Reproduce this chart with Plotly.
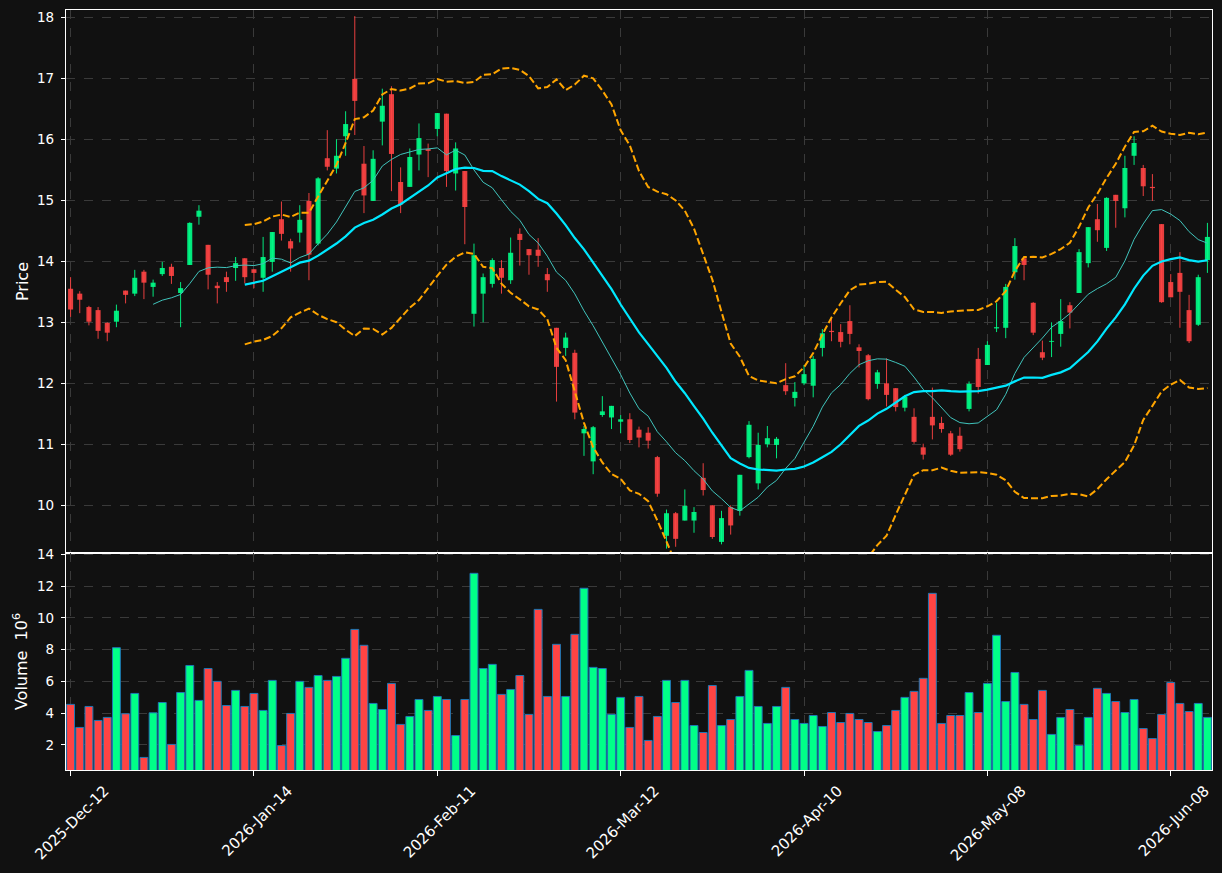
import pandas as pd
import plotly.graph_objects as go

# ---------------- data ----------------
tick_index = [0, 20, 40, 60, 80, 100, 120]
tick_labels = ["2025-Dec-12", "2026-Jan-14", "2026-Feb-11", "2026-Mar-12",
               "2026-Apr-10", "2026-May-08", "2026-Jun-08"]

opens = [13.55, 13.47, 13.25, 13.20, 12.99, 13.01, 13.52, 13.47, 13.83, 13.58,
         13.79, 13.91, 13.48, 13.94, 14.73, 14.27, 13.60, 13.74, 13.89, 14.05,
         13.87, 13.73, 13.99, 14.69, 14.33, 14.47, 14.99, 14.29, 15.69, 15.52,
         16.05, 16.99, 15.60, 14.99, 16.29, 16.74, 15.30, 15.22, 15.75, 15.84,
         16.17, 16.42, 15.44, 15.48, 13.14, 13.47, 13.63, 13.89, 13.69, 14.45,
         14.20, 14.19, 13.79, 12.91, 12.58, 12.50, 11.18, 10.72, 11.48, 11.44,
         11.37, 11.41, 11.24, 11.19, 10.79, 9.50, 9.87, 9.75, 9.75, 10.45,
         10.00, 9.40, 9.97, 9.91, 10.79, 10.36, 11.00, 10.99, 11.97, 11.76,
         12.00, 11.96, 12.58, 12.86, 12.84, 13.02, 12.59, 12.46, 11.99, 12.00,
         11.92, 11.60, 11.45, 10.95, 11.45, 11.35, 11.18, 11.14, 11.58, 12.40,
         12.30, 12.90, 12.91, 13.82, 14.05, 13.32, 12.51, 12.68, 12.81, 13.28,
         13.48, 13.97, 14.69, 14.22, 15.09, 14.87, 15.73, 15.53, 15.22, 14.61,
         13.66, 13.81, 13.20, 12.96, 14.02]
highs = [13.74, 13.51, 13.27, 13.25, 13.00, 13.29, 13.52, 13.86, 13.86, 13.70,
         13.99, 13.96, 13.66, 14.64, 14.92, 14.27, 13.66, 13.83, 14.07, 14.05,
         13.87, 14.40, 14.48, 14.98, 14.37, 14.92, 15.12, 15.38, 16.15, 16.00,
         16.46, 18.02, 15.89, 15.82, 16.83, 16.87, 15.54, 15.85, 16.26, 15.93,
         16.43, 16.42, 15.95, 15.48, 14.29, 13.80, 14.05, 14.02, 14.39, 14.54,
         14.20, 14.38, 13.89, 12.91, 12.83, 12.55, 11.30, 11.30, 11.79, 11.63,
         11.48, 11.51, 11.29, 11.28, 10.81, 9.93, 9.89, 10.26, 9.97, 10.69,
         10.00, 9.91, 10.00, 10.50, 11.38, 11.19, 11.30, 11.12, 12.33, 12.02,
         12.30, 12.45, 12.89, 13.07, 12.97, 13.28, 12.64, 12.48, 12.22, 12.41,
         11.92, 11.81, 11.59, 11.01, 11.93, 11.45, 11.22, 11.28, 12.03, 12.58,
         12.69, 13.32, 13.63, 14.38, 14.05, 13.33, 12.70, 13.00, 13.38, 13.33,
         14.20, 14.56, 14.94, 15.05, 15.09, 15.73, 16.05, 15.58, 15.43, 14.61,
         13.79, 14.15, 13.45, 13.78, 14.63]
lows = [13.09, 13.15, 12.95, 12.73, 12.69, 12.92, 13.31, 13.43, 13.38, 13.42,
        13.76, 13.63, 12.92, 13.94, 14.60, 13.54, 13.31, 13.50, 13.68, 13.64,
        13.56, 13.50, 13.83, 14.34, 13.83, 14.31, 13.69, 14.26, 15.49, 15.44,
        15.73, 16.07, 14.79, 14.99, 15.90, 15.15, 14.79, 15.22, 15.49, 15.38,
        16.05, 15.22, 15.16, 14.28, 12.93, 13.00, 13.57, 13.47, 13.63, 13.93,
        13.78, 13.91, 13.50, 11.70, 12.45, 11.41, 10.81, 10.51, 11.45, 11.25,
        11.18, 11.02, 10.95, 10.93, 10.14, 9.29, 9.32, 9.75, 9.55, 10.16,
        9.45, 9.36, 9.52, 9.83, 10.77, 10.26, 10.95, 10.77, 11.81, 11.62,
        11.97, 11.77, 12.44, 12.69, 12.59, 12.64, 12.26, 11.72, 11.91, 11.62,
        11.54, 11.54, 11.01, 10.75, 11.08, 11.19, 10.81, 10.88, 11.54, 11.83,
        12.30, 12.84, 12.74, 13.70, 13.69, 12.79, 12.38, 12.43, 12.60, 12.90,
        13.48, 13.90, 14.32, 14.17, 14.55, 14.72, 15.58, 15.07, 14.99, 13.32,
        13.41, 12.91, 12.66, 12.94, 13.81]
closes = [13.21, 13.37, 13.01, 12.86, 12.83, 13.19, 13.45, 13.73, 13.65, 13.65,
          13.89, 13.76, 13.56, 14.63, 14.83, 13.78, 13.56, 13.66, 13.97, 13.74,
          13.81, 14.07, 14.48, 14.45, 14.21, 14.68, 14.11, 15.36, 15.55, 15.73,
          16.25, 16.63, 15.08, 15.68, 16.55, 15.76, 14.93, 15.71, 16.02, 15.81,
          16.43, 15.48, 15.85, 14.89, 14.10, 13.74, 14.02, 13.73, 14.14, 14.35,
          14.10, 14.09, 13.69, 12.27, 12.75, 11.52, 11.25, 11.28, 11.54, 11.63,
          11.41, 11.07, 11.11, 11.06, 10.19, 9.87, 9.45, 9.99, 9.89, 10.25,
          9.48, 9.79, 9.67, 10.50, 11.32, 10.99, 11.10, 11.09, 11.87, 11.86,
          12.15, 12.40, 12.82, 12.84, 12.68, 12.81, 12.53, 11.74, 12.18, 11.81,
          11.61, 11.78, 11.04, 10.83, 11.31, 11.25, 10.83, 10.92, 11.99, 11.94,
          12.63, 12.92, 13.58, 14.25, 13.94, 12.83, 12.42, 12.69, 13.02, 13.16,
          14.15, 14.56, 14.51, 15.04, 14.99, 15.53, 15.94, 15.23, 15.20, 13.33,
          13.41, 13.50, 12.69, 13.74, 14.40]
volumes = [4.55, 3.10, 4.42, 3.54, 3.73, 8.12, 3.96, 5.24, 1.21, 4.02,
           4.67, 2.03, 5.30, 7.00, 4.80, 6.81, 6.00, 4.48, 5.43, 4.42,
           5.24, 4.17, 6.06, 1.96, 3.98, 6.00, 5.62, 6.37, 6.06, 6.31,
           7.45, 9.27, 8.27, 4.61, 4.23, 5.87, 3.29, 3.79, 4.86, 4.17,
           5.05, 4.86, 2.59, 4.86, 12.80, 6.81, 7.07, 5.18, 5.49, 6.37,
           3.92, 10.53, 5.05, 8.33, 5.05, 8.96, 11.86, 6.88, 6.81, 3.92,
           4.99, 3.10, 5.05, 2.28, 3.79, 6.06, 4.67, 6.06, 3.22, 2.78,
           5.74, 3.22, 3.60, 5.05, 6.69, 4.42, 3.35, 4.42, 5.62, 3.60,
           3.35, 3.85, 3.16, 4.04, 3.41, 3.98, 3.60, 3.41, 2.84, 3.22,
           4.17, 4.99, 5.37, 6.19, 11.54, 3.35, 3.85, 3.85, 5.30, 4.04,
           5.87, 8.90, 4.73, 6.56, 4.55, 3.60, 5.43, 2.66, 3.73, 4.23,
           1.96, 3.73, 5.56, 5.24, 4.73, 4.04, 4.86, 3.03, 2.40, 3.92,
           5.93, 4.61, 4.10, 4.61, 3.73]

# ---------------- derived ----------------
n = len(closes)
idx = list(range(n))
is_up = [c >= o for o, c in zip(opens, closes)]

close_s = pd.Series(closes)
ma10 = close_s.rolling(10).mean()
ma20 = close_s.rolling(20).mean()
sd20 = close_s.rolling(20).std(ddof=0)
bb_up = ma20 + 2 * sd20
bb_lo = ma20 - 2 * sd20

UP = "#00ff88"
DOWN = "#ff4444"
UP_C = "rgba(0,255,136,0.9)"
DOWN_C = "rgba(255,68,68,0.9)"
BG = "#111111"
GRID = "#3a3a3a"
FONT = "DejaVu Sans"

fig = go.Figure()

# wicks
for flag, col in ((True, UP_C), (False, DOWN_C)):
    wx, wy = [], []
    for i in idx:
        if is_up[i] == flag:
            wx += [i, i, None]
            wy += [lows[i], highs[i], None]
    fig.add_trace(go.Scatter(x=wx, y=wy, mode="lines",
                             line=dict(color=col, width=1),
                             hoverinfo="skip", xaxis="x", yaxis="y"))

# bodies
for flag, col in ((True, UP_C), (False, DOWN_C)):
    bx = [i for i in idx if is_up[i] == flag]
    bbase = [min(opens[i], closes[i]) for i in bx]
    bh = [max(abs(closes[i] - opens[i]), 0.015) for i in bx]
    fig.add_trace(go.Bar(x=bx, y=bh, base=bbase, width=0.55,
                         marker=dict(color=col, line=dict(width=0)),
                         xaxis="x", yaxis="y"))

# moving averages
fig.add_trace(go.Scatter(x=idx, y=ma10, mode="lines",
                         line=dict(color="#40c4bc", width=1),
                         xaxis="x", yaxis="y"))
fig.add_trace(go.Scatter(x=idx, y=ma20, mode="lines",
                         line=dict(color="#00e8ff", width=2.2),
                         xaxis="x", yaxis="y"))
for band in (bb_up, bb_lo):
    fig.add_trace(go.Scatter(x=idx, y=band, mode="lines",
                             line=dict(color="#ffa500", width=2, dash="7px,3px"),
                             xaxis="x", yaxis="y"))

# volume
fig.add_trace(go.Bar(x=idx, y=volumes, width=0.86,
                     marker=dict(color=[UP if u else DOWN for u in is_up],
                                 line=dict(color="#1f77b4", width=1)),
                     xaxis="x2", yaxis="y2"))

split = 217 / 760
axis_common = dict(showline=True, linecolor="white", linewidth=1.2, mirror=True,
                   showgrid=True, gridcolor=GRID, griddash="dash", gridwidth=1,
                   zeroline=False, automargin=False)

fig.update_layout(
    width=1222, height=873,
    margin=dict(l=66, r=10, t=10, b=103),
    paper_bgcolor=BG, plot_bgcolor=BG,
    showlegend=False, barmode="overlay",
    font=dict(family=FONT, size=13.5, color="white"),
    xaxis=dict(domain=[0, 1], anchor="y", range=[-0.5, 124.5],
               tickmode="array", tickvals=tick_index, ticktext=tick_labels,
               showticklabels=False, ticks="", **axis_common),
    yaxis=dict(domain=[split, 1], anchor="x", range=[9.218, 18.12],
               tickmode="array", tickvals=list(range(10, 19)),
               ticks="outside", ticklen=4, tickcolor="white",
               ticklabelstandoff=4,
               title=dict(text="Price", standoff=4), **axis_common),
    xaxis2=dict(domain=[0, 1], anchor="y2", range=[-0.5, 124.5], matches="x",
                tickmode="array", tickvals=tick_index, ticktext=tick_labels,
                tickangle=-45, ticks="outside", ticklen=5, tickcolor="white",
                tickfont=dict(size=15), ticklabelshift=34, **axis_common),
    yaxis2=dict(domain=[0, split], anchor="x2", range=[0.42, 14.08],
                tickmode="array", tickvals=[2, 4, 6, 8, 10, 12, 14],
                ticks="outside", ticklen=4, tickcolor="white",
                ticklabelstandoff=4,
                title=dict(text="Volume\u00a0\u00a010<sup>6</sup>", standoff=5),
                **axis_common),
)

fig.write_html("out.html")
